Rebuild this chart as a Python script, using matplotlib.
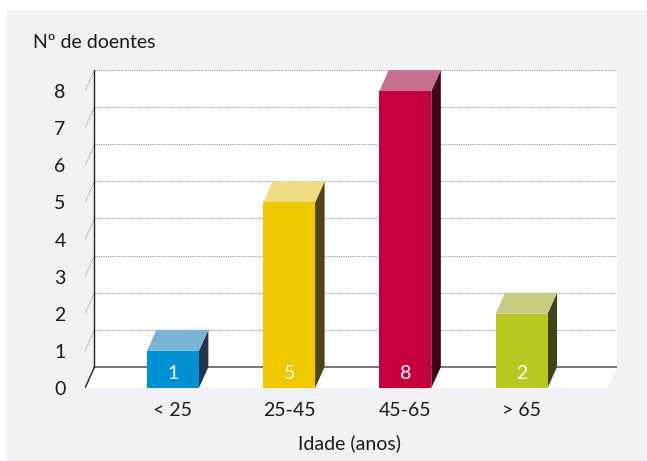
import matplotlib
matplotlib.use("Agg")
import matplotlib.pyplot as plt
from matplotlib.patches import Polygon, Rectangle

plt.rcParams['font.family'] = ['Lato', 'DejaVu Sans']

# data
categories = ['< 25', '25-45', '45-65', '> 65']
doentes = [1, 5, 8, 2]
yticks = list(range(0, 9))

front_colors = ['#0090d4', '#f0c800', '#c5003f', '#b8c820']
top_colors = ['#7ab4d4', '#f0dc80', '#c8708f', '#c8cc82']
side_colors = ['#1f3550', '#504418', '#400018', '#40441a']

W, H, DPI = 647, 461, 100
fig = plt.figure(figsize=(W / DPI, H / DPI), dpi=DPI, facecolor='white')

# light panel behind the chart (below the axes)
fig.patches.append(Rectangle((7 / W, 0), 1, 1 - 10 / H, transform=fig.transFigure,
                             facecolor='#f2f1f6', edgecolor='none', zorder=-1))

# axes covers the whole box: front plane + depth
left_px, right_px, bot_px, top_px = 85, 617, 388, 70
ax = fig.add_axes([left_px / W, 1 - bot_px / H,
                   (right_px - left_px) / W, (bot_px - top_px) / H])
ax.set_facecolor('none')
for s in ax.spines.values():
    s.set_visible(False)

px_per_x = 116.33
px_per_y = 37.1
x0 = -(173 - 85) / px_per_x
x1 = (608 - 173) / px_per_x
dx = 9.5 / px_per_x
dy = 21 / px_per_y
ax.set_xlim(x0, x1 + dx)
ax.set_ylim(0, 8 + dy)
ymax = 8

# back wall and floor
ax.add_patch(Rectangle((x0 + dx, dy), x1 - x0, ymax, facecolor='white',
                       edgecolor='none', zorder=1))
ax.add_patch(Polygon([(x0, 0), (x1, 0), (x1 + dx, dy), (x0 + dx, dy)],
                     facecolor='white', edgecolor='none', zorder=1))

# dotted gridlines on the wall, with short slants on the left
for v in yticks[1:]:
    ax.plot([x0 + dx, x1 + dx], [v + dy, v + dy], color='#9a9a9a',
            lw=0.8, ls=(0, (1, 1)), zorder=2)
    ax.plot([x0, x0 + dx], [v, v + dy], color='#9a9a9a',
            lw=0.8, ls=(0, (1, 1)), zorder=2)

ax.plot([x0 + dx, x0 + dx], [dy, ymax + dy], color='#222222', lw=1.0, zorder=2)
ax.plot([x0 + dx, x1 + dx], [dy, dy], color='#777777', lw=1.4, zorder=2)
ax.plot([x0, x0 + dx], [0, dy], color='#222222', lw=1.0, zorder=2)

# 3D bars
bw = 52 / px_per_x
for i, v in enumerate(doentes):
    a, b = i - bw / 2, i + bw / 2
    ax.add_patch(Polygon([(b, 0), (b + dx, dy), (b + dx, v + dy), (b, v)],
                         facecolor=side_colors[i], edgecolor='none', zorder=3))
    ax.add_patch(Polygon([(a, v), (b, v), (b + dx, v + dy), (a + dx, v + dy)],
                         facecolor=top_colors[i], edgecolor='none', zorder=3))
    ax.bar(i, v, width=bw, color=front_colors[i], zorder=4)
    ax.text(i, 0.4, str(v), color='white', ha='center', va='center',
            fontsize=14, zorder=5)

ax.set_xticks(range(len(categories)))
ax.set_xticklabels(categories)
ax.set_yticks(yticks)
ax.tick_params(length=0, labelsize=14, colors='#1a1a1a')
ax.tick_params(axis='y', pad=14)
ax.tick_params(axis='x', pad=10)

fig.text(33 / W, 1 - 43 / H, 'Nº de doentes', fontsize=14, color='#1a1a1a',
         ha='left', va='center')
fig.text(350 / W, 1 - 443 / H, 'Idade (anos)', fontsize=14, color='#1a1a1a',
         ha='center', va='center')

fig.savefig('out.png', dpi=DPI, facecolor='white')
